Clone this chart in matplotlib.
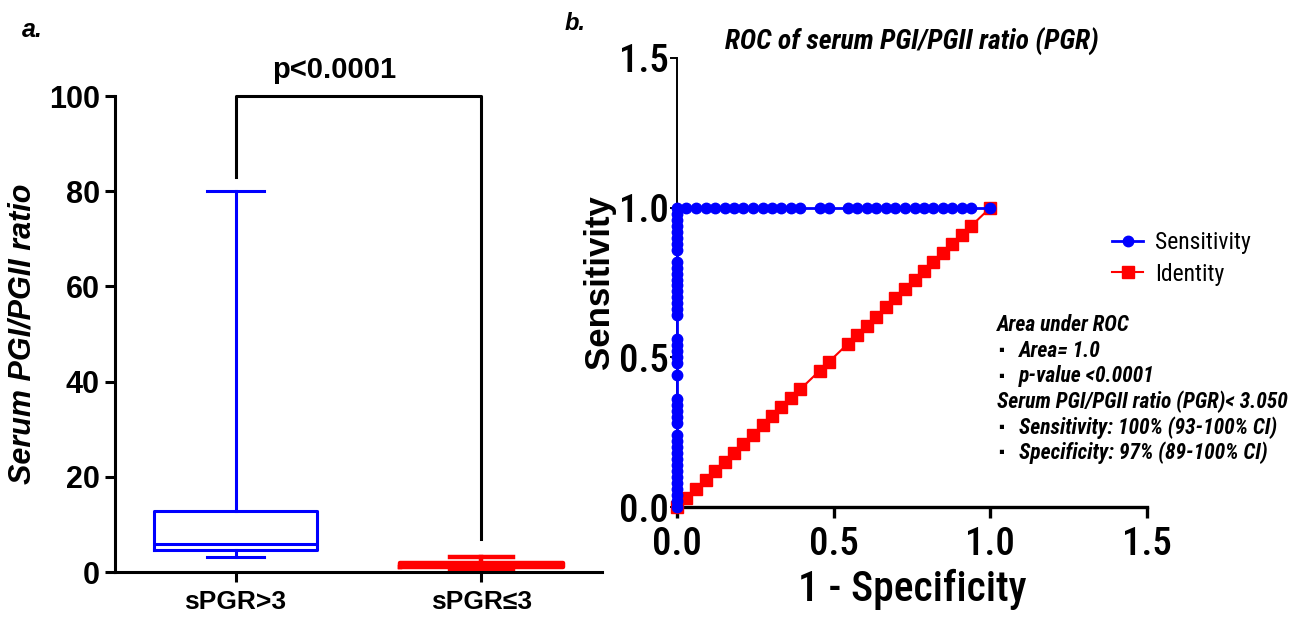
import matplotlib
matplotlib.use("Agg")
import matplotlib.pyplot as plt

# panel a: box plot summary of serum PGI/PGII ratio
groups = ["sPGR>3", "sPGR≤3"]
box_whislo = [3.1, 0.5]
box_q1 = [4.6, 1.0]
box_med = [5.9, 1.4]
box_q3 = [12.8, 1.9]
box_whishi = [80.0, 3.1]
box_colors = ["#0000FF", "#FF0000"]
box_lw = [2.2, 3.2]
box_caps = [0.235, 0.255]
p_text = "p<0.0001"
bracket_ends = [83, 7]
bracket_top = 100

# panel b: ROC curve
sens_at_zero = [0.0, 0.02, 0.04, 0.06, 0.08, 0.10, 0.12, 0.14, 0.16, 0.18, 0.20,
                0.22, 0.24, 0.28, 0.30, 0.32, 0.34, 0.36, 0.44, 0.48, 0.50, 0.52,
                0.54, 0.56, 0.64, 0.66, 0.68, 0.70, 0.72, 0.74, 0.76, 0.78, 0.80,
                0.82, 0.86, 0.88, 0.90, 0.92, 0.94, 0.96, 0.98]
fpr_at_one = [0.0, 0.030, 0.061, 0.091, 0.121, 0.152, 0.182, 0.212, 0.242, 0.273,
              0.303, 0.333, 0.364, 0.394, 0.455, 0.485, 0.545, 0.576, 0.606, 0.636,
              0.667, 0.697, 0.727, 0.758, 0.788, 0.818, 0.848, 0.879, 0.909, 0.939,
              1.0]
identity_x = fpr_at_one
roc_ticks = [0.0, 0.5, 1.0, 1.5]
roc_notes = [
    ("", "Area under ROC"),
    ("▪", "Area= 1.0"),
    ("▪", "p-value <0.0001"),
    ("", "Serum PGI/PGII ratio (PGR)< 3.050"),
    ("▪", "Sensitivity: 100% (93-100% CI)"),
    ("▪", "Specificity: 97% (89-100% CI)"),
]

W, H = 1297, 618
NARROW = ["Roboto Condensed", "Archivo Narrow", "Liberation Sans", "DejaVu Sans"]
SANS = ["Liberation Sans", "DejaVu Sans"]
plt.rcParams["font.family"] = SANS


def fx(px):
    return px / W


def fy(py):
    return 1 - py / H


fig = plt.figure(figsize=(W / 100, H / 100), dpi=100)

# ---------------- panel a ----------------
ax1 = fig.add_axes([fx(115), fy(572), fx(602) - fx(115), fy(96) - fy(572)])
for i in range(len(groups)):
    stats = [dict(med=box_med[i], q1=box_q1[i], q3=box_q3[i],
                  whislo=box_whislo[i], whishi=box_whishi[i], fliers=[])]
    props = dict(color=box_colors[i], linewidth=box_lw[i])
    ax1.bxp(stats, positions=[i], widths=0.66, capwidths=box_caps[i],
            showfliers=False, boxprops=props, whiskerprops=props,
            capprops=props, medianprops=props)

ax1.set_xlim(-0.49, 1.49)
ax1.set_ylim(0, 100)
ax1.set_yticks([0, 20, 40, 60, 80, 100])
ax1.set_xticks([0, 1])
ax1.set_xticklabels(groups, fontsize=19, fontweight="bold")
for t in ax1.get_yticklabels():
    t.set_fontsize(22)
    t.set_fontweight("bold")
ax1.tick_params(axis="both", width=2.2, length=7, direction="out", pad=4)
ax1.tick_params(axis="x", pad=6)
for s in ["top", "right"]:
    ax1.spines[s].set_visible(False)
for s in ["left", "bottom"]:
    ax1.spines[s].set_linewidth(2.2)
ax1.set_ylabel("Serum PGI/PGII ratio", fontsize=22, fontweight="bold",
               fontstyle="italic", labelpad=8)

ax1.plot([0, 0, 1, 1], [bracket_ends[0], bracket_top, bracket_top, bracket_ends[1]],
         color="black", lw=2.2, clip_on=False, solid_joinstyle="round")
ax1.text(0.4, bracket_top + 2.5, p_text, ha="center", va="bottom",
         fontsize=21, fontweight="bold")

fig.text(fx(22), fy(30), "a.", fontsize=18, fontweight="bold",
         fontstyle="italic", va="center", ha="left")

# ---------------- panel b ----------------
ax2 = fig.add_axes([fx(677), fy(507), fx(1147) - fx(677), fy(58) - fy(507)])
roc_x = [0.0] * len(sens_at_zero) + fpr_at_one
roc_y = sens_at_zero + [1.0] * len(fpr_at_one)
ax2.plot(identity_x, identity_x, color="#FF0000", lw=1.5, marker="s",
         markersize=8.5, label="Identity", clip_on=False, zorder=3)
ax2.plot(roc_x, roc_y, color="#0000FF", lw=2, marker="o", markersize=7.5,
         label="Sensitivity", clip_on=False, zorder=4)

ax2.set_xlim(0, 1.5)
ax2.set_ylim(0, 1.5)
ax2.set_xticks(roc_ticks)
ax2.set_yticks(roc_ticks)
ax2.set_xticklabels([f"{v:.1f}" for v in roc_ticks], fontsize=28, family=NARROW,
                    fontweight="medium")
ax2.set_yticklabels([f"{v:.1f}" for v in roc_ticks], fontsize=28, family=NARROW,
                    fontweight="medium")
for s in ["top", "right"]:
    ax2.spines[s].set_visible(False)
ax2.spines["left"].set_linewidth(1.4)
ax2.spines["bottom"].set_linewidth(2.4)
ax2.tick_params(axis="y", width=1.4, length=5, pad=1)
ax2.tick_params(axis="x", width=2.4, length=8, pad=6)
ax2.set_xlabel("1 - Specificity", fontsize=30, family=NARROW, labelpad=4,
               fontweight="medium")
ax2.set_ylabel("Sensitivity", fontsize=25, fontweight="bold", labelpad=2)
ax2.set_title("ROC of serum PGI/PGII ratio (PGR)", fontsize=20, family=NARROW,
              fontweight="bold", fontstyle="italic", pad=6)

handles, labels = ax2.get_legend_handles_labels()
ax2.legend(handles[::-1], labels[::-1], loc="upper left",
           bbox_to_anchor=(fx(1103), fy(222)), bbox_transform=fig.transFigure,
           frameon=False, borderaxespad=0, handlelength=1.3, handletextpad=0.5,
           labelspacing=0.35, prop=dict(family=NARROW, size=17))

for i, (bullet, line) in enumerate(roc_notes):
    ypx = 325 + i * 25.6
    if bullet:
        fig.text(fx(998), fy(ypx), bullet, fontsize=12, va="center", ha="left",
                 family=SANS)
        fig.text(fx(1019), fy(ypx), line, fontsize=15.5, fontweight="bold",
                 fontstyle="italic", va="center", ha="left", family=NARROW)
    else:
        fig.text(fx(997), fy(ypx), line, fontsize=15.5, fontweight="bold",
                 fontstyle="italic", va="center", ha="left", family=NARROW)

fig.text(fx(565), fy(23), "b.", fontsize=17, fontweight="bold",
         fontstyle="italic", va="center", ha="left")

fig.savefig("out.png", dpi=100)
